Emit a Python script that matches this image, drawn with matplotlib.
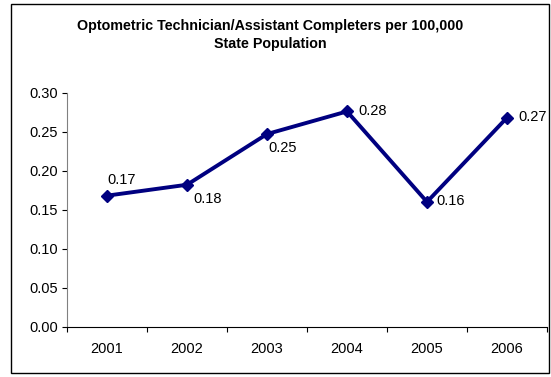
import matplotlib.pyplot as plt
from matplotlib.patches import Rectangle

plt.rcParams['font.family'] = ['Liberation Sans', 'DejaVu Sans']

years = ['2001', '2002', '2003', '2004', '2005', '2006']
values = [0.168, 0.182, 0.247, 0.276, 0.160, 0.268]
labels = ['0.17', '0.18', '0.25', '0.28', '0.16', '0.27']
# label offsets in points (dx, dy), left aligned, vertically centred
label_off = [(0, 11.5), (4.3, -10), (0.7, -10), (8, 0.5), (7, 0.5), (8, 0.5)]

W, H = 551, 377
fig = plt.figure(figsize=(W / 100, H / 100), dpi=100)
ax = fig.add_axes([67 / W, 1 - 326.7 / H, 480 / W, 234 / H])

x = range(len(years))
ax.plot(x, values, color='#000080', lw=2.8, marker='D', ms=6, clip_on=False)

for i, (v, lab) in enumerate(zip(values, labels)):
    dx, dy = label_off[i]
    ax.annotate(lab, (i, v), xytext=(dx, dy), textcoords='offset points',
                ha='left', va='center', fontsize=10.5)

ax.set_xlim(-0.5, len(years) - 0.5)
ax.set_ylim(0, 0.30)
ax.set_yticks([0.0, 0.05, 0.10, 0.15, 0.20, 0.25, 0.30])
ax.set_yticklabels(['%.2f' % t for t in ax.get_yticks()], fontsize=10.5)
ax.set_xticks([i - 0.5 for i in range(len(years) + 1)])
ax.set_xticklabels([])
ax.set_xticks(list(x), minor=True)
ax.set_xticklabels(years, minor=True, fontsize=10.5)
ax.tick_params(axis='x', which='minor', length=0, pad=11)
ax.tick_params(axis='x', which='major', direction='out', length=3.5, width=0.8)
ax.tick_params(axis='y', length=3.5, direction='out', width=0.8, pad=3)

for s in ['top', 'right']:
    ax.spines[s].set_visible(False)
ax.spines['left'].set_color('#808080')
ax.spines['bottom'].set_color('black')

fig.text(270 / W, 1 - 35 / H, 'Optometric Technician/Assistant Completers per 100,000\nState Population',
         ha='center', va='center', fontsize=10.3, fontweight='bold', linespacing=1.4)

fig.patches.append(Rectangle((11 / W, 1 - 373 / H), 538 / W, 369 / H, transform=fig.transFigure,
                             fill=False, edgecolor='black', lw=1))

fig.savefig('out.png', dpi=100)
